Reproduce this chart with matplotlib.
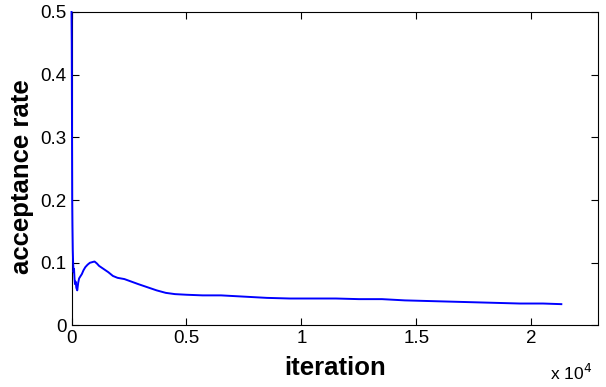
import matplotlib
matplotlib.use('Agg')
from matplotlib import pyplot as plt
from matplotlib.ticker import FuncFormatter

plt.rcParams['font.family'] = ['Liberation Sans', 'DejaVu Sans']

# running acceptance rate
iterations = [0, 10, 20, 30, 40, 55, 70, 90, 110, 130, 150, 180, 210, 250, 290, 330,
              380, 450, 520, 600, 700, 800, 900, 1000, 1100, 1200, 1400, 1600, 1800,
              2000, 2300, 2600, 2900, 3300, 3700, 4100, 4500, 5000, 5700, 6500, 7500,
              8500, 9500, 10500, 11500, 12500, 13500, 14500, 15500, 16500, 17500,
              18500, 19500, 20500, 21300]
acc_rate = [0.5, 0.45, 0.33, 0.2, 0.16, 0.12, 0.1, 0.085, 0.09, 0.075, 0.066, 0.07,
            0.06, 0.056, 0.068, 0.075, 0.078, 0.082, 0.088, 0.093, 0.097, 0.1, 0.101,
            0.102, 0.099, 0.095, 0.09, 0.085, 0.079, 0.076, 0.074, 0.07, 0.066, 0.061,
            0.056, 0.052, 0.05, 0.049, 0.048, 0.048, 0.046, 0.044, 0.043, 0.043,
            0.043, 0.042, 0.042, 0.04, 0.039, 0.038, 0.037, 0.036, 0.035, 0.035, 0.034]

fig = plt.figure(figsize=(6.06, 3.87), dpi=100)
ax = fig.add_axes([0.118, 0.159, 0.869, 0.81])
ax.plot(iterations, acc_rate, color='blue', linewidth=1.4, zorder=3, clip_on=False)

ax.set_xlim(0, 22900)
ax.set_ylim(0, 0.5)
ax.set_xticks([0, 5000, 10000, 15000, 20000])
ax.set_yticks([0, 0.1, 0.2, 0.3, 0.4, 0.5])
ax.xaxis.set_major_formatter(FuncFormatter(lambda v, p: '%g' % (v / 1e4)))
ax.yaxis.set_major_formatter(FuncFormatter(lambda v, p: '%g' % v))
ax.tick_params(axis='both', direction='in', top=True, right=True, labelsize=13.5,
               length=5, width=0.8)
for s in ax.spines.values():
    s.set_linewidth(0.8)

ax.set_xlabel('iteration', fontsize=18.5, fontweight='bold', labelpad=6)
ax.set_ylabel('acceptance rate', fontsize=18.5, fontweight='bold')
ax.yaxis.set_label_coords(-0.072, 0.475)
fig.text(0.907, 0.018, 'x 10$^{4}$', fontsize=12.5)

fig.savefig('out.png', dpi=100)
